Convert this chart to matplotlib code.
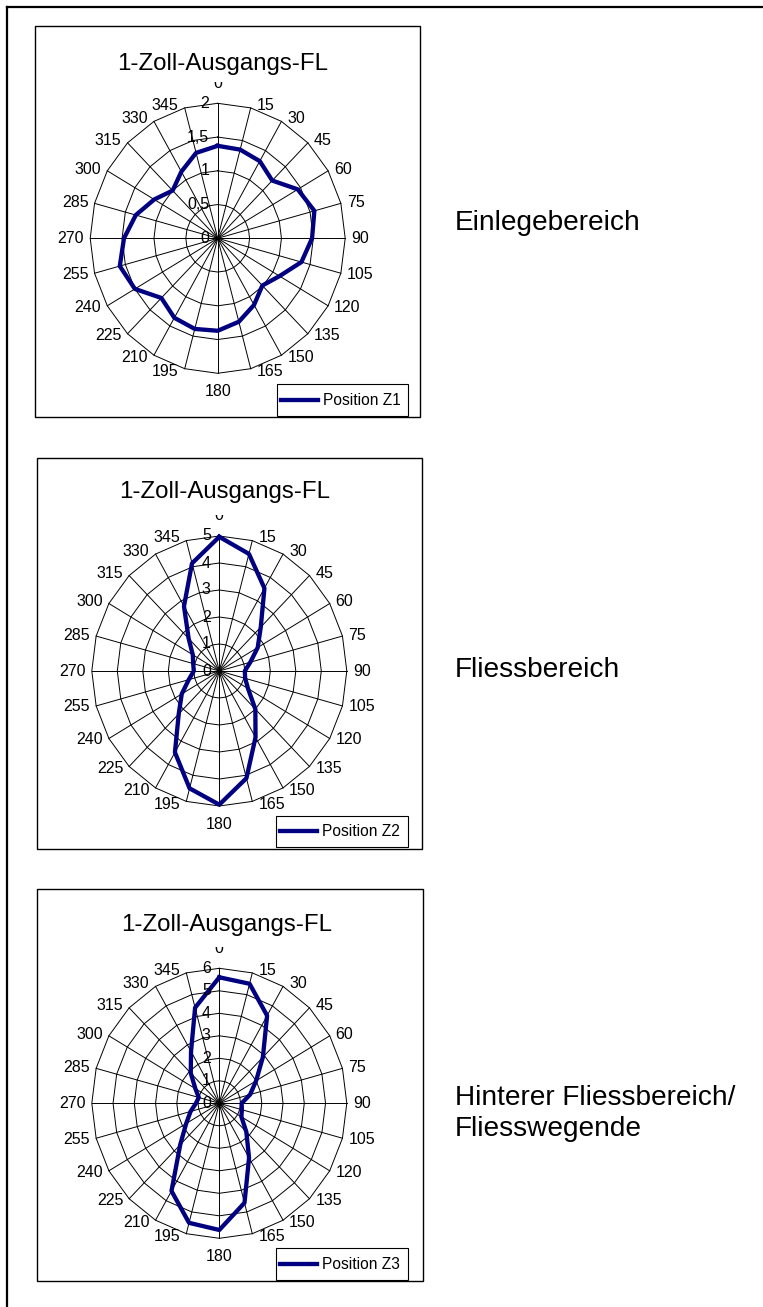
import matplotlib
matplotlib.use("Agg")
import matplotlib.pyplot as plt
import numpy as np
from matplotlib.patches import Rectangle
from matplotlib.lines import Line2D

plt.rcParams["font.family"] = ["Liberation Sans", "DejaVu Sans"]

# ---------------------------------------------------------------- data
angles_deg = list(range(0, 360, 15))
angle_labels = [str(a) for a in angles_deg]

z1_values = [1.37, 1.36, 1.32, 1.21, 1.45, 1.57, 1.48, 1.36, 1.12, 0.99, 1.14, 1.28,
             1.37, 1.39, 1.36, 1.25, 1.50, 1.59, 1.47, 1.33, 1.15, 1.00, 1.14, 1.31]
z2_values = [4.97, 4.49, 3.54, 2.30, 1.74, 1.26, 1.00, 1.05, 1.30, 2.00, 2.84, 4.11,
             4.95, 4.50, 3.48, 2.25, 1.70, 1.24, 1.00, 1.06, 1.20, 1.70, 2.77, 4.13]
z3_values = [5.60, 5.50, 4.50, 2.90, 2.00, 1.50, 1.05, 1.10, 1.20, 1.80, 2.80, 4.58,
             5.63, 5.50, 4.50, 2.60, 1.80, 1.40, 1.10, 1.00, 1.30, 1.90, 2.66, 4.40]

z1_ticks = [0, 0.5, 1, 1.5, 2]
z1_tick_labels = ["0", "0,5", "1", "1,5", "2"]
z2_ticks = [0, 1, 2, 3, 4, 5]
z2_tick_labels = ["0", "1", "2", "3", "4", "5"]
z3_ticks = [0, 1, 2, 3, 4, 5, 6]
z3_tick_labels = ["0", "1", "2", "3", "4", "5", "6"]

chart_title = "1-Zoll-Ausgangs-FL"
series_names = ["Position Z1", "Position Z2", "Position Z3"]
zone_labels = [["Einlegebereich"], ["Fliessbereich"],
               ["Hinterer Fliessbereich/", "Fliesswegende"]]

# ---------------------------------------------------------------- layout (pixels)
W, H = 763, 1307
LINE_COLOR = "#000080"

panels = [
    dict(values=z1_values, ticks=z1_ticks, tlabels=z1_tick_labels, name=series_names[0],
         box=(35, 26, 420, 417), center=(217.7, 238.3), title=(222.7, 70.0),
         legend=(276.7, 384.3, 407.7, 416.0), zone=zone_labels[0], zone_y=[230.0]),
    dict(values=z2_values, ticks=z2_ticks, tlabels=z2_tick_labels, name=series_names[1],
         box=(37, 458, 422, 849), center=(219.3, 671.0), title=(225.0, 498.3),
         legend=(275.7, 816.0, 407.7, 846.7), zone=zone_labels[1], zone_y=[677.0]),
    dict(values=z3_values, ticks=z3_ticks, tlabels=z3_tick_labels, name=series_names[2],
         box=(37, 889, 423, 1281), center=(219.3, 1103.3), title=(226.7, 931.0),
         legend=(275.7, 1248.3, 407.7, 1280.0), zone=zone_labels[2], zone_y=[1105.0, 1136.0]),
]
RX, RY = 127.5, 135.0


def fx(x):
    return x / W


def fy(y):
    return 1 - y / H


fig = plt.figure(figsize=(W / 100, H / 100), dpi=100)
fig.patch.set_facecolor("white")

# outer page frame (open to the right and bottom)
fig.add_artist(Line2D([fx(7), 1.0], [fy(6.5), fy(6.5)], transform=fig.transFigure,
                      color="black", lw=1.6))
fig.add_artist(Line2D([fx(7), fx(7)], [fy(6.5), 0.0], transform=fig.transFigure,
                      color="black", lw=1.6))

theta = np.deg2rad(angles_deg)
sin_t, cos_t = np.sin(theta), np.cos(theta)

for p in panels:
    x0, y0, x1, y1 = p["box"]
    fig.add_artist(Rectangle((fx(x0), fy(y1)), (x1 - x0) / W, (y1 - y0) / H,
                             transform=fig.transFigure, fill=False, ec="black", lw=1.0))

    cx, cy = p["center"]
    rmax = p["ticks"][-1]
    ax = fig.add_axes([fx(cx - RX), fy(cy + RY), 2 * RX / W, 2 * RY / H])
    ax.set_xlim(-rmax, rmax)
    ax.set_ylim(-rmax, rmax)
    ax.axis("off")

    # polygonal grid rings
    for t in p["ticks"][1:]:
        xs = np.append(t * sin_t, t * sin_t[0])
        ys = np.append(t * cos_t, t * cos_t[0])
        ax.plot(xs, ys, color="black", lw=0.7, clip_on=False, zorder=1)
    # spokes
    for s, c in zip(sin_t, cos_t):
        ax.plot([0, rmax * s], [0, rmax * c], color="black", lw=0.7, clip_on=False, zorder=1)

    # data series
    r = np.asarray(p["values"])
    xs = np.append(r * sin_t, r[0] * sin_t[0])
    ys = np.append(r * cos_t, r[0] * cos_t[0])
    ax.plot(xs, ys, color=LINE_COLOR, lw=3.1, solid_joinstyle="round",
            clip_on=False, zorder=3)

    # angle labels
    for lab, a, s, c in zip(angle_labels, angles_deg, sin_t, cos_t):
        if a == 0:
            off, ha = (0, 20.0), "center"
        elif a == 180:
            off, ha = (0, -18.5), "center"
        elif s > 0:
            off, ha = (6.0, 3.0 * c), "left"
        else:
            off, ha = (-6.0, 3.0 * c), "right"
        ax.annotate(lab, xy=(rmax * s, rmax * c), xytext=off, textcoords="offset pixels",
                    ha=ha, va="center", fontsize=11.5, annotation_clip=False, zorder=4)

    # radial value labels
    for t, lab in zip(p["ticks"], p["tlabels"]):
        ax.annotate(lab, xy=(0, t), xytext=(-8.5, 0), textcoords="offset pixels",
                    ha="right", va="center", fontsize=11.5, annotation_clip=False, zorder=4)

    # title band hides the upper part of the "0" angle label
    label_cy = cy - RY - 20.0
    fig.add_artist(Rectangle((fx(cx - 14), fy(label_cy - 1.0)), 28 / W, 14 / H,
                             transform=fig.transFigure, fc="white", ec="none", zorder=10))
    tx, ty = p["title"]
    fig.text(fx(tx), fy(ty), chart_title, ha="center", va="baseline", fontsize=17.3,
             zorder=11)

    # legend
    lx0, ly0, lx1, ly1 = p["legend"]
    fig.add_artist(Rectangle((fx(lx0), fy(ly1)), (lx1 - lx0) / W, (ly1 - ly0) / H,
                             transform=fig.transFigure, fc="white", ec="black", lw=0.8,
                             zorder=12))
    ly = (ly0 + ly1) / 2
    fig.add_artist(Line2D([fx(lx0 + 4), fx(lx0 + 41.6)], [fy(ly), fy(ly)],
                          transform=fig.transFigure, color=LINE_COLOR, lw=3.1, zorder=13))
    fig.text(fx(lx0 + 46), fy(ly), p["name"], ha="left", va="center", fontsize=11.2,
             zorder=13)

    # zone description to the right
    for line, yb in zip(p["zone"], p["zone_y"]):
        fig.text(fx(455), fy(yb), line, ha="left", va="baseline", fontsize=20.2)

fig.savefig("out.png", dpi=100, facecolor="white")
